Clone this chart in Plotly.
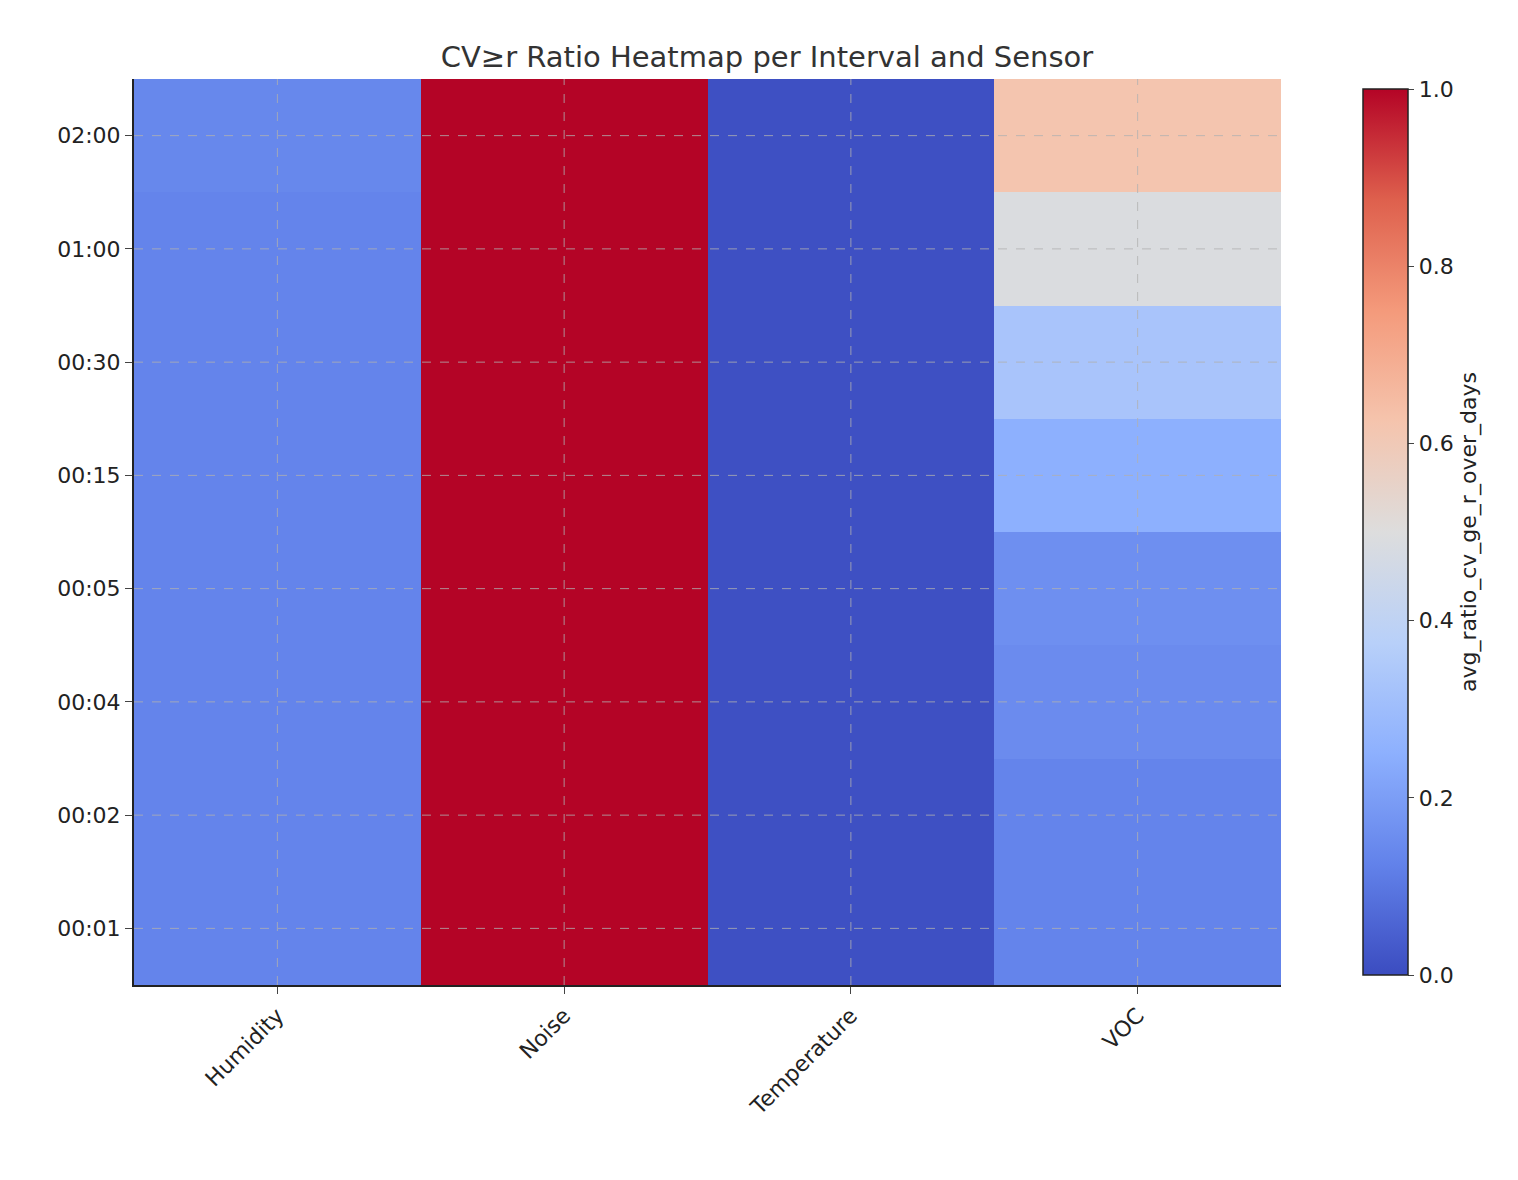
import plotly.graph_objects as go

sensors = ["Humidity", "Noise", "Temperature", "VOC"]
intervals = ["00:01", "00:02", "00:04", "00:05", "00:15", "00:30", "01:00", "02:00"]
humidity = [0.13, 0.13, 0.13, 0.13, 0.13, 0.13, 0.13, 0.14]
noise = [1.0, 1.0, 1.0, 1.0, 1.0, 1.0, 1.0, 1.0]
temperature = [0.01, 0.01, 0.01, 0.01, 0.01, 0.01, 0.01, 0.01]
voc = [0.13, 0.13, 0.15, 0.16, 0.25, 0.33, 0.49, 0.62]

cols = [humidity, noise, temperature, voc]
z = [[cols[j][i] for j in range(len(sensors))] for i in range(len(intervals))]

coolwarm = [[0.0, "rgb(59,76,192)"], [0.125, "rgb(98,130,234)"], [0.25, "rgb(141,176,254)"],
            [0.375, "rgb(184,208,249)"], [0.5, "rgb(221,221,221)"], [0.625, "rgb(245,196,173)"],
            [0.75, "rgb(244,154,123)"], [0.875, "rgb(222,96,77)"], [1.0, "rgb(180,4,38)"]]

xs = list(range(len(sensors)))
ys = list(range(len(intervals)))
fig = go.Figure(go.Heatmap(
    z=z, x=xs, y=ys, zmin=0, zmax=1, colorscale=coolwarm,
    colorbar=dict(x=1.063, xanchor="left", y=0, yanchor="bottom", len=1, lenmode="fraction",
                  thickness=45, outlinewidth=1.5, outlinecolor="#222",
                  tickvals=[0, 0.2, 0.4, 0.6, 0.8, 1.0], ticktext=["0.0", "0.2", "0.4", "0.6", "0.8", "1.0"],
                  ticks="outside", ticklen=6, tickfont=dict(size=22, color="#222"),
                  title=dict(text="avg_ratio_cv_ge_r_over_days", side="right", font=dict(size=22, color="#222")))))

shapes = []
for x in xs:
    shapes.append(dict(type="line", xref="x", yref="paper", x0=x, x1=x, y0=0, y1=1,
                       line=dict(color="rgba(176,176,176,0.8)", width=1, dash="dash"), layer="above"))
for y in ys:
    shapes.append(dict(type="line", xref="paper", yref="y", x0=0, x1=1, y0=y, y1=y,
                       line=dict(color="rgba(176,176,176,0.8)", width=1, dash="dash"), layer="above"))

fig.update_layout(
    width=1518, height=1180, plot_bgcolor="white", paper_bgcolor="white",
    margin=dict(l=126, r=245, t=71, b=203),
    font=dict(family="DejaVu Sans", color="#222"),
    title=dict(text="CV≥r Ratio Heatmap per Interval and Sensor", x=0.5, xanchor="center",
               y=0.967, font=dict(size=29, color="#333")),
    shapes=shapes,
    xaxis=dict(tickvals=xs, ticktext=sensors, tickangle=-45, ticks="outside", ticklen=7,
               tickfont=dict(size=22), showgrid=False, showline=True, linecolor="#222", linewidth=2,
               range=[-0.5, 3.5], zeroline=False),
    yaxis=dict(tickvals=ys, ticktext=intervals, ticks="outside", ticklen=7,
               tickfont=dict(size=22), showgrid=False, showline=True, linecolor="#222", linewidth=2,
               range=[-0.5, 7.5], zeroline=False),
)
fig.write_html("out.html")
